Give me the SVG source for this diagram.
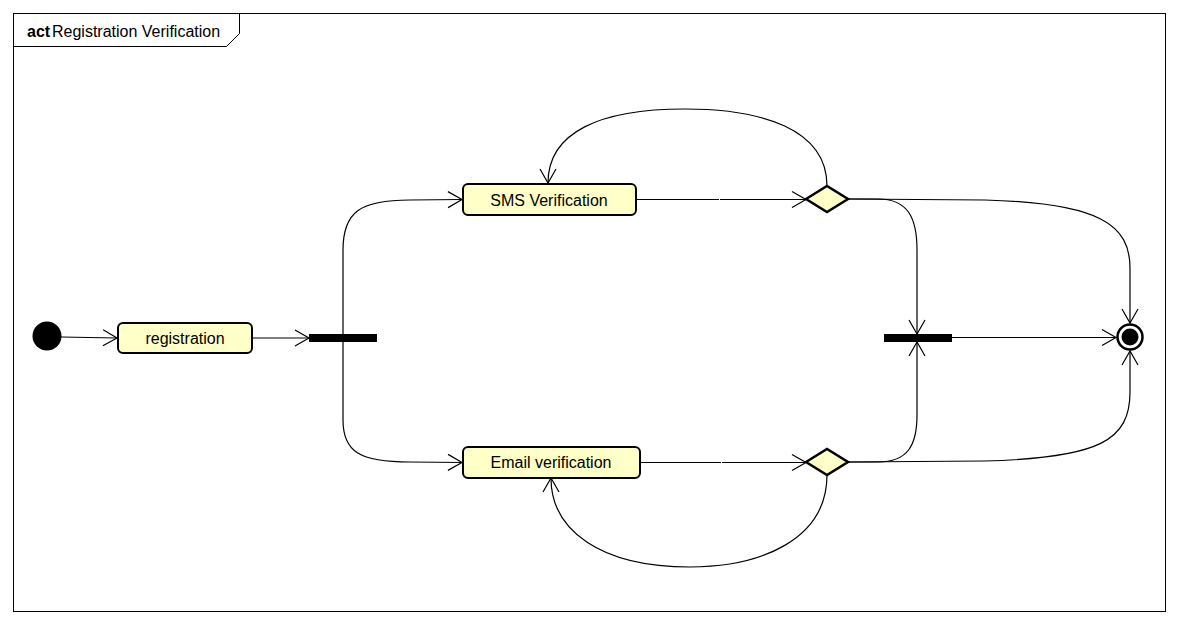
<svg xmlns="http://www.w3.org/2000/svg" width="1178" height="624" viewBox="0 0 1178 624">
<style>
.frame{fill:#fff;stroke:#000;stroke-width:1}
.act{fill:#FFFFC8;stroke:#000;stroke-width:2}
.dec{fill:#FFFFC8;stroke:#000;stroke-width:2.5}
.lbl{font-family:"Liberation Sans",Arial,sans-serif;font-size:16px;fill:#000;text-anchor:middle}
.title{font-family:"Liberation Sans",Arial,sans-serif;font-size:16px;fill:#000}
.bar{fill:#000}
.edge{fill:none;stroke:#000;stroke-width:1.2}
</style>
<defs>
<marker id="arr" markerUnits="userSpaceOnUse" markerWidth="20" markerHeight="20" viewBox="-16 -10 20 20" refX="0" refY="0" orient="auto" overflow="visible">
<path d="M-14,-8 L0,0 L-14,8" fill="none" stroke="#000" stroke-width="1.2"/>
</marker>
</defs>
<rect width="1178" height="624" fill="#fff"/>
<g id="frame">
<rect class="frame" x="13.5" y="13.5" width="1152" height="598"/>
<path d="M13.5,46.5 L226.5,46.5 L239.5,33.5 L239.5,13.5" fill="none" stroke="#000" stroke-width="1"/>
<text class="title" x="27" y="37"><tspan font-weight="bold">act</tspan><tspan x="52">Registration Verification</tspan></text>
</g>
<g id="connectors">
<path class="edge" d="M61,337 L117,338" marker-end="url(#arr)"/>
<path class="edge" d="M252,338 L309,338" marker-end="url(#arr)"/>
<path class="edge" d="M343,338 L343,250 C343,212 360,200 410,200 L462,199.5" marker-end="url(#arr)"/>
<path class="edge" d="M343,338 L343,420 C343,452 360,462 410,462 L462,462.5" marker-end="url(#arr)"/>
<path class="edge" d="M636,199.5 L719,199.5"/>
<path class="edge" d="M720,199.5 L806,199.5" marker-end="url(#arr)"/>
<path class="edge" d="M640,462.5 L721,462.5"/>
<path class="edge" d="M722,462.5 L806,462.5" marker-end="url(#arr)"/>
<path class="edge" d="M827,186 C827,128 760,109 685,109 C600,109 548,132 548,183" marker-end="url(#arr)"/>
<path class="edge" d="M827,475 C827,540 760,567 690,567 C600,567 551,530 551,478" marker-end="url(#arr)"/>
<path class="edge" d="M848,199 L878,199 C908,199 917,218 917,250 L917,334" marker-end="url(#arr)"/>
<path class="edge" d="M848,462 L878,462 C908,462 917,445 917,415 L917,342" marker-end="url(#arr)"/>
<path class="edge" d="M848,199 L985,200 C1100,203 1130,225 1130,268 L1130,323" marker-end="url(#arr)"/>
<path class="edge" d="M848,462 L985,461 C1100,458 1130,440 1130,392 L1130,351" marker-end="url(#arr)"/>
<path class="edge" d="M952,337.5 L1116,337.5" marker-end="url(#arr)"/>
</g>
<g id="initial"><circle cx="47" cy="336" r="14.5" fill="#000"/></g>
<g id="registration">
<rect class="act" x="118" y="323" width="134" height="30" rx="5"/>
<text class="lbl" x="185" y="344">registration</text>
</g>
<g id="fork"><rect class="bar" x="309" y="334" width="68" height="8"/></g>
<g id="sms">
<rect class="act" x="463" y="184" width="173" height="31" rx="5"/>
<text class="lbl" x="549" y="206">SMS Verification</text>
</g>
<g id="email">
<rect class="act" x="463" y="447" width="177" height="31" rx="5"/>
<text class="lbl" x="551" y="468">Email verification</text>
</g>
<g id="decision-sms"><path class="dec" d="M806,199 L827,186 L848,199 L827,212 Z"/></g>
<g id="decision-email"><path class="dec" d="M806,462 L827,449 L848,462 L827,475 Z"/></g>
<g id="join"><rect class="bar" x="884" y="334" width="68" height="8"/></g>
<g id="final">
<circle cx="1130" cy="337" r="12.5" fill="#fff" stroke="#000" stroke-width="2.5"/>
<circle cx="1130" cy="337" r="8.5" fill="#000"/>
</g>
</svg>
